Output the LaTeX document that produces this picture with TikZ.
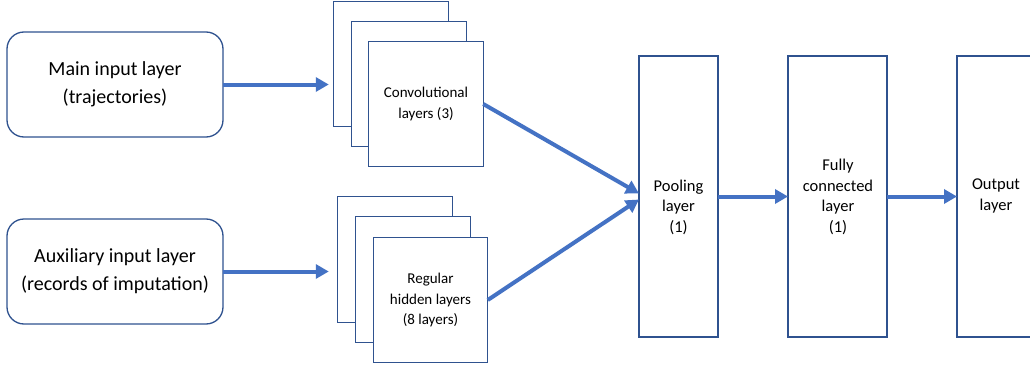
\documentclass[tikz,border=0pt]{standalone}
\usepackage{fontspec}
\setmainfont{Carlito}
\usetikzlibrary{arrows.meta}
\definecolor{boxblue}{HTML}{2F528F}
\definecolor{arrblue}{HTML}{4472C4}
\tikzset{
  rbox/.style={draw=boxblue, line width=1.3pt, fill=white, rounded corners=17pt,
    minimum width=216pt, minimum height=105pt, inner sep=0pt, outer sep=0pt,
    align=center, font=\fontsize{20}{28}\selectfont},
  sbox/.style={draw=boxblue, line width=1.3pt, fill=white,
    minimum width=114.5pt, minimum height=125.5pt, inner sep=0pt, outer sep=0pt,
    align=center, font=\fontsize{15}{20.5}\selectfont},
  tbox/.style={draw=boxblue, line width=1.3pt, fill=white,
    minimum height=281pt, inner sep=0pt, outer sep=0pt},
  lbl/.style={align=center, inner sep=0pt, font=\fontsize{16.5}{20.5}\selectfont},
  arr/.style={draw=arrblue, line width=4pt, -{Triangle[length=13pt,width=14pt]}}
}
\begin{document}
\begin{tikzpicture}[x=1pt,y=-1pt]
\clip (0,0) rectangle (1030,369);
\fill[white] (0,0) rectangle (1030,369);
% inputs
\node[rbox] (main) at (115,84.5) {Main input layer\\(trajectories)};
\node[rbox] (aux) at (115,271.5) {Auxiliary input layer\\(records of imputation)};
% convolutional stack
\node[sbox] (cb) at (391,64) {};
\node[sbox] (cm) at (409,84) {};
\node[sbox] (cf) at (426,104) {Convolutional\\layers (3)};
% regular stack
\node[sbox] (rb) at (395,259.5) {};
\node[sbox] (rm) at (413,279.5) {};
\node[sbox] (rf) at (430.5,300) {Regular\\hidden layers\\(8 layers)};
% tall layers
\node[tbox, minimum width=79pt] (pool) at (678.5,196.5) {};
\node[tbox, minimum width=99pt] (fc) at (837.5,196.5) {};
\node[tbox, minimum width=78pt] (out) at (996,196.5) {};
\node[lbl] (pooltxt) at (678.5,207) {Pooling\\layer\\(1)};
\node[lbl] (fctxt) at (838,197) {Fully\\connected\\layer\\(1)};
\node[lbl] (outtxt) at (996,196) {Output\\layer};
% connectors
\draw[arr, shorten >=5pt] (main.east) -- (main.east -| cb.west);
\draw[arr, shorten >=9pt] (aux.east) -- (aux.east -| rb.west);
\draw[arr] (cf.east) -- ([yshift=3pt]pool.west);
\draw[arr] (rf.east) -- ([yshift=-3pt]pool.west);
\draw[arr] (pool.east) -- (fc.west);
\draw[arr] (fc.east) -- (out.west);
\end{tikzpicture}
\end{document}
